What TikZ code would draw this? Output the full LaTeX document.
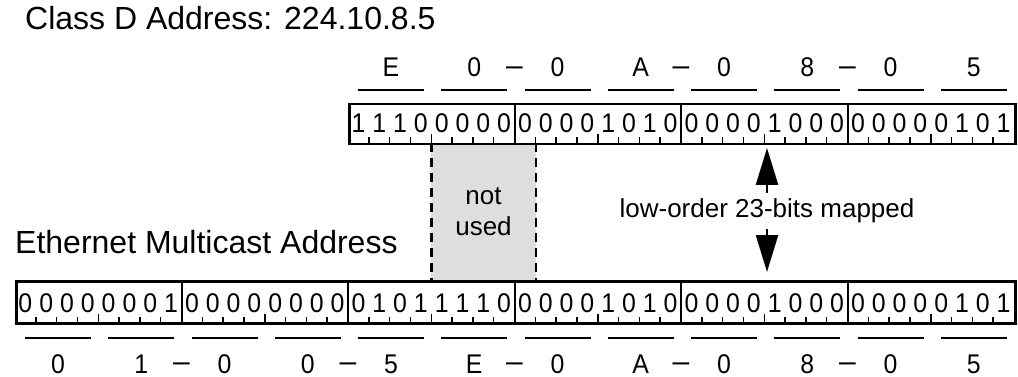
\documentclass[tikz,border=0pt]{standalone}
\usepackage{fontspec}
\setmainfont{Liberation Sans}
\newfontfamily\digfont[FakeStretch=0.92]{Liberation Sans}
\usetikzlibrary{arrows.meta}
\definecolor{unusedgray}{RGB}{222,222,222}
\tikzset{
  regbox/.style={draw, line width=2.5pt, inner sep=0pt, anchor=north west},
  divider/.style={line width=2pt},
  tickmark/.style={line width=1.5pt},
  bitdigit/.style={font=\digfont\fontsize{27}{27}\selectfont, inner sep=0pt, anchor=base},
  hexlabel/.style={font=\digfont\fontsize{27}{27}\selectfont, inner sep=0pt, anchor=base},
  sepdash/.style={font=\fontsize{30}{30}\selectfont, inner sep=0pt, anchor=base},
  overbar/.style={line width=2.5pt},
  title/.style={font=\fontsize{32}{32}\selectfont, inner sep=0pt, anchor=base west},
  unusedbox/.style={fill=unusedgray, inner sep=0pt, anchor=north west, align=center,
    font=\fontsize{26}{31}\selectfont},
  dashedline/.style={line width=2.5pt, dash pattern=on 9pt off 6pt},
  maplabel/.style={fill=white, inner sep=2pt, font=\fontsize{26}{26}\selectfont}
}
\begin{document}
\begin{tikzpicture}[x=1pt,y=-1pt]
\useasboundingbox (0,0) rectangle (1018,377);
\def\bw{20.8125}
\def\nw{83.25}

% titles
\node[title] (classd) at (25,30) {Class D Address: 224.10.8.5};
\node[title] (ethtitle) at (15,253) {Ethernet Multicast Address};

% not used box
\node[unusedbox, minimum width=104.1, minimum height=137] (unused) at (431.25,143) {not\\used};
\draw[dashedline] (unused.north west) -- (unused.south west);
\draw[dashedline] (unused.north east) -- (unused.south east);

% registers
\node[regbox, minimum width=666, minimum height=40] (ipreg) at (348,103) {};
\node[regbox, minimum width=999, minimum height=42] (ethreg) at (15,280) {};

% top bits
\foreach \b [count=\i from 0] in {1,1,1,0,0,0,0,0,0,0,0,0,1,0,1,0,0,0,0,0,1,0,0,0,0,0,0,0,0,1,0,1}
  \node[bitdigit] (ipbit\i) at ({348+(\i+0.5)*\bw},133) {\b};
\foreach \j in {1,...,31} {
  \pgfmathtruncatemacro\m{mod(\j,8)}
  \pgfmathtruncatemacro\n{mod(\j,4)}
  \ifnum\m=0
    \draw[divider] ([xshift=\j*\bw pt]ipreg.north west) -- ([xshift=\j*\bw pt]ipreg.south west);
  \else
    \ifnum\n=0
      \draw[tickmark] ([xshift=\j*\bw pt]ipreg.south west) -- ++(0,-11);
    \else
      \draw[tickmark] ([xshift=\j*\bw pt]ipreg.south west) -- ++(0,-8);
    \fi
  \fi
}

% bottom bits
\foreach \b [count=\i from 0] in {0,0,0,0,0,0,0,1,0,0,0,0,0,0,0,0,0,1,0,1,1,1,1,0,0,0,0,0,1,0,1,0,0,0,0,0,1,0,0,0,0,0,0,0,0,1,0,1}
  \node[bitdigit] (ethbit\i) at ({15+(\i+0.5)*\bw},312) {\b};
\foreach \j in {1,...,47} {
  \pgfmathtruncatemacro\m{mod(\j,8)}
  \pgfmathtruncatemacro\n{mod(\j,4)}
  \ifnum\m=0
    \draw[divider] ([xshift=\j*\bw pt]ethreg.north west) -- ([xshift=\j*\bw pt]ethreg.south west);
  \else
    \ifnum\n=0
      \draw[tickmark] ([xshift=\j*\bw pt]ethreg.south west) -- ++(0,-11);
    \else
      \draw[tickmark] ([xshift=\j*\bw pt]ethreg.south west) -- ++(0,-8);
    \fi
  \fi
}

% top hex labels
\foreach \h [count=\k from 0] in {E,0,0,A,0,8,0,5} {
  \draw[overbar] ({348+\k*\nw+10},90) -- ({348+\k*\nw+76},90);
  \node[hexlabel] (iphex\k) at ({348+\k*\nw+43},77) {\h};
}
\foreach \m in {1,2,3}
  \node[sepdash] (ipdash\m) at ({348+\m*2*\nw},76) {–};

% bottom hex labels
\foreach \h [count=\k from 0] in {0,1,0,0,5,E,0,A,0,8,0,5} {
  \draw[overbar] ({15+\k*\nw+10},338) -- ({15+\k*\nw+76},338);
  \node[hexlabel] (ethhex\k) at ({15+\k*\nw+43},373) {\h};
}
\foreach \m in {1,2,3,4,5}
  \node[sepdash] (ethdash\m) at ({15+\m*2*\nw},371) {–};

% mapping arrow
\coordinate (atop) at (767,148);
\coordinate (abot) at (767,272);
\draw[dashedline, {Triangle[width=22pt,length=37pt]}-{Triangle[width=22pt,length=37pt]}] (atop) -- (abot);
\node[maplabel] (maplbl) at (767,211) {low-order 23-bits mapped};
\end{tikzpicture}
\end{document}
